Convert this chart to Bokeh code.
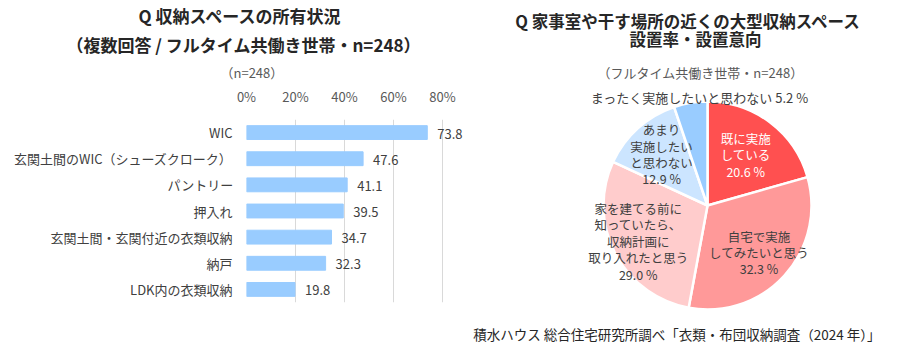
import math
from bokeh.plotting import figure
from bokeh.models import Range1d, FactorRange, FixedTicker, PrintfTickFormatter, Title, ColumnDataSource
from bokeh.layouts import row
from bokeh.core.properties import value
from bokeh.embed import file_html
from bokeh.resources import INLINE

FONT = "Noto Sans CJK JP"

# ---- data: left bar chart ----
bar_categories = ["WIC", "玄関土間のWIC（シューズクローク）", "パントリー", "押入れ",
                  "玄関土間・玄関付近の衣類収納", "納戸", "LDK内の衣類収納"]
bar_values = [73.8, 47.6, 41.1, 39.5, 34.7, 32.3, 19.8]
bar_ticks = [0, 20, 40, 60, 80]

# ---- data: right pie chart ----
pie_labels = ["既に実施\nしている", "自宅で実施\nしてみたいと思う",
              "家を建てる前に\n知っていたら、\n収納計画に\n取り入れたと思う",
              "あまり\n実施したい\nと思わない", "まったく実施したいと思わない"]
pie_values = [20.6, 32.3, 29.0, 12.9, 5.2]

# ---- styles ----
BAR_COLOR = "#99CCFF"
PIE_COLORS = ["#FF5050", "#FF9999", "#FFCCCC", "#CCE5FF", "#99CCFF"]
PIE_TEXT_COLORS = ["#FFFFFF", "#404040", "#404040", "#404040", "#404040"]
PIE_TEXT_SIZES = ["12.5px", "12.5px", "12.5px", "12.5px", "13px"]
LABEL_R = [0.61, 0.67, 0.75, 0.66, 1.05]
LABEL_DX = [0, 0, 0, 0, 10]
TXT = "#404040"
GRAY = "#595959"

# ================= left: bar chart =================
p1 = figure(width=465, height=350, output_backend="svg", toolbar_location=None,
            title=None, x_axis_location="above",
            x_range=Range1d(0, 89.4), y_range=FactorRange(*reversed(bar_categories)),
            min_border_left=246, min_border_right=0, min_border_top=117, min_border_bottom=48)
p1.frame_align = False
p1.outline_line_color = None

src = ColumnDataSource(dict(cat=bar_categories, val=bar_values,
                            lab=[f"{v:.1f}" for v in bar_values]))
p1.hbar(y="cat", right="val", left=0, height=0.53, color=BAR_COLOR, source=src)
p1.text(x="val", y="cat", text="lab", source=src, x_offset=10, y_offset=1,
        text_font=value(FONT), text_font_size="13px", text_color=TXT,
        text_align="left", text_baseline="middle")

xa = p1.xaxis[0]
xa.ticker = FixedTicker(ticks=bar_ticks)
xa.formatter = PrintfTickFormatter(format="%d%%")
xa.axis_line_color = None
xa.major_tick_line_color = None
xa.minor_tick_line_color = None
xa.major_tick_out = 0
xa.major_label_standoff = 14
xa.major_label_text_font = FONT
xa.major_label_text_font_size = "13px"
xa.major_label_text_color = GRAY

ya = p1.yaxis[0]
ya.axis_line_color = None
ya.major_tick_line_color = None
ya.minor_tick_line_color = None
ya.major_tick_out = 0
ya.major_label_standoff = 14
ya.major_label_text_font = FONT
ya.major_label_text_font_size = "13px"
ya.major_label_text_color = TXT

p1.xgrid.ticker = FixedTicker(ticks=bar_ticks)
p1.xgrid.grid_line_color = "#D9D9D9"
p1.ygrid.grid_line_color = None

p1.add_layout(Title(text="（n=248）", align="left", offset=-26, standoff=4,
                    text_font=FONT, text_font_size="13px", text_font_style="normal",
                    text_color=GRAY), "above")
p1.add_layout(Title(text="（複数回答 / フルタイム共働き世帯・n=248）", align="left", offset=-180,
                    standoff=4, text_font=FONT, text_font_size="17px", text_font_style="bold",
                    text_color="#262626"), "above")
p1.add_layout(Title(text="Q 収納スペースの所有状況", align="left", offset=-108,
                    standoff=0, text_font=FONT, text_font_size="17px", text_font_style="bold",
                    text_color="#262626"), "above")

# ================= right: pie chart =================
W2, H2 = 433, 350
p2 = figure(width=W2, height=H2, output_backend="svg", toolbar_location=None, title=None,
            x_range=Range1d(0, W2), y_range=Range1d(0, H2),
            min_border=0, min_border_left=0, min_border_right=0, min_border_top=0,
            min_border_bottom=0)
p2.frame_align = False
p2.axis.visible = False
p2.grid.visible = False
p2.outline_line_color = None

CX, CY, R = 242, 145, 104
total = sum(pie_values)
cum = [0.0]
for v in pie_values:
    cum.append(cum[-1] + v / total)
starts = [math.pi / 2 - 2 * math.pi * c for c in cum[:-1]]
ends = [math.pi / 2 - 2 * math.pi * c for c in cum[1:]]
mids = [math.pi / 2 - 2 * math.pi * (a + b) / 2 for a, b in zip(cum[:-1], cum[1:])]

p2.wedge(x=CX, y=CY, radius=R, start_angle=starts, end_angle=ends, direction="clock",
         fill_color=PIE_COLORS, line_color="white", line_width=2.5)

lab_text = []
for i, (l, v) in enumerate(zip(pie_labels, pie_values)):
    sep = " " if i == 4 else "\n"
    lab_text.append(f"{l}{sep}{v:.1f} %")
lx = [CX + r * R * math.cos(m) + dx for r, m, dx in zip(LABEL_R, mids, LABEL_DX)]
ly = [CY + r * R * math.sin(m) for r, m in zip(LABEL_R, mids)]
p2.text(x=lx, y=ly, text=lab_text, text_color=PIE_TEXT_COLORS,
        text_font=value(FONT), text_font_size=PIE_TEXT_SIZES, text_align="center",
        text_baseline="middle", text_line_height=0.86)

p2.text(x=[223], y=[330], text=["Q 家事室や干す場所の近くの大型収納スペース"],
        text_font=value(FONT), text_font_size="16.5px", text_font_style="bold",
        text_color="#262626", text_align="center", text_baseline="middle")
p2.text(x=[230], y=[312], text=["設置率・設置意向"],
        text_font=value(FONT), text_font_size="16.5px", text_font_style="bold",
        text_color="#262626", text_align="center", text_baseline="middle")
p2.text(x=[235], y=[278], text=["（フルタイム共働き世帯・n=248）"],
        text_font=value(FONT), text_font_size="13px", text_color=GRAY,
        text_align="center", text_baseline="middle")
p2.text(x=[415], y=[17], text=["積水ハウス 総合住宅研究所調べ「衣類・布団収納調査（2024 年）」"],
        text_font=value(FONT), text_font_size="13.5px", text_color="#262626",
        text_align="right", text_baseline="middle")

layout = row(p1, p2)
open("out.html", "w").write(file_html(layout, INLINE))
